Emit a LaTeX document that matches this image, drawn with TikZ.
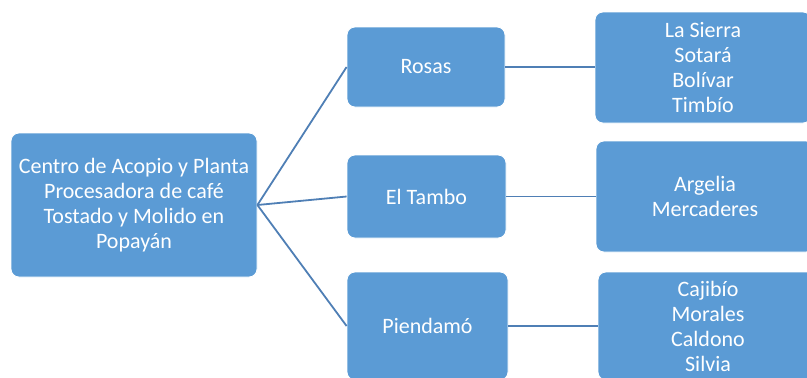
\documentclass[tikz,border=0pt]{standalone}
\usepackage{fontspec}
\setmainfont{Carlito}
\definecolor{cajaazul}{HTML}{5B9BD5}
\definecolor{lineaazul}{HTML}{4F7FB5}

\begin{document}
\begin{tikzpicture}[x=1pt, y=-1pt,
		caja/.style={draw=white, line width=0.8pt, fill=cajaazul, rounded corners=8pt,
			text=white, align=center, inner sep=0pt,
			font=\fontsize{22}{25}\selectfont},
		enlace/.style={draw=lineaazul, line width=1.8pt}]
		\useasboundingbox (0, 0) rectangle (807, 378);
		\clip (0, 0) rectangle (807, 378);

		% nodo raiz
		\node[caja, minimum width=246pt, minimum height=144pt] (centro) at (134, 205)
			{Centro de Acopio y Planta\\Procesadora de café\\Tostado y Molido en\\Popayán};

		% municipios del medio
		\node[caja, minimum width=158pt, minimum height=80pt] (rosas) at (426, 67) {Rosas};
		\node[caja, minimum width=159pt, minimum height=83pt] (tambo) at (426.5, 196.5) {El Tambo};
		\node[caja, minimum width=161pt, minimum height=108pt] (piendamo) at (427.5, 326) {Piendamó};

		% municipios de la derecha
		\node[caja, minimum width=216pt, minimum height=111pt] (sierra) at (703, 67.5)
			{La Sierra\\Sotará\\Bolívar\\Timbío};
		\node[caja, minimum width=218pt, minimum height=111pt] (argelia) at (705, 196.5)
			{Argelia\\Mercaderes};
		\node[caja, minimum width=220pt, minimum height=108pt] (cajibio) at (708, 326)
			{Cajibío\\Morales\\Caldono\\Silvia};

		% lineas de union
		\draw[enlace] (centro.east) -- (rosas.west);
		\draw[enlace] (centro.east) -- (tambo.west);
		\draw[enlace] (centro.east) -- (piendamo.west);
		\draw[enlace] (rosas.east) -- (rosas.east -| sierra.west);
		\draw[enlace] (tambo.east) -- (tambo.east -| argelia.west);
		\draw[enlace] (piendamo.east) -- (piendamo.east -| cajibio.west);
\end{tikzpicture}
\end{document}
